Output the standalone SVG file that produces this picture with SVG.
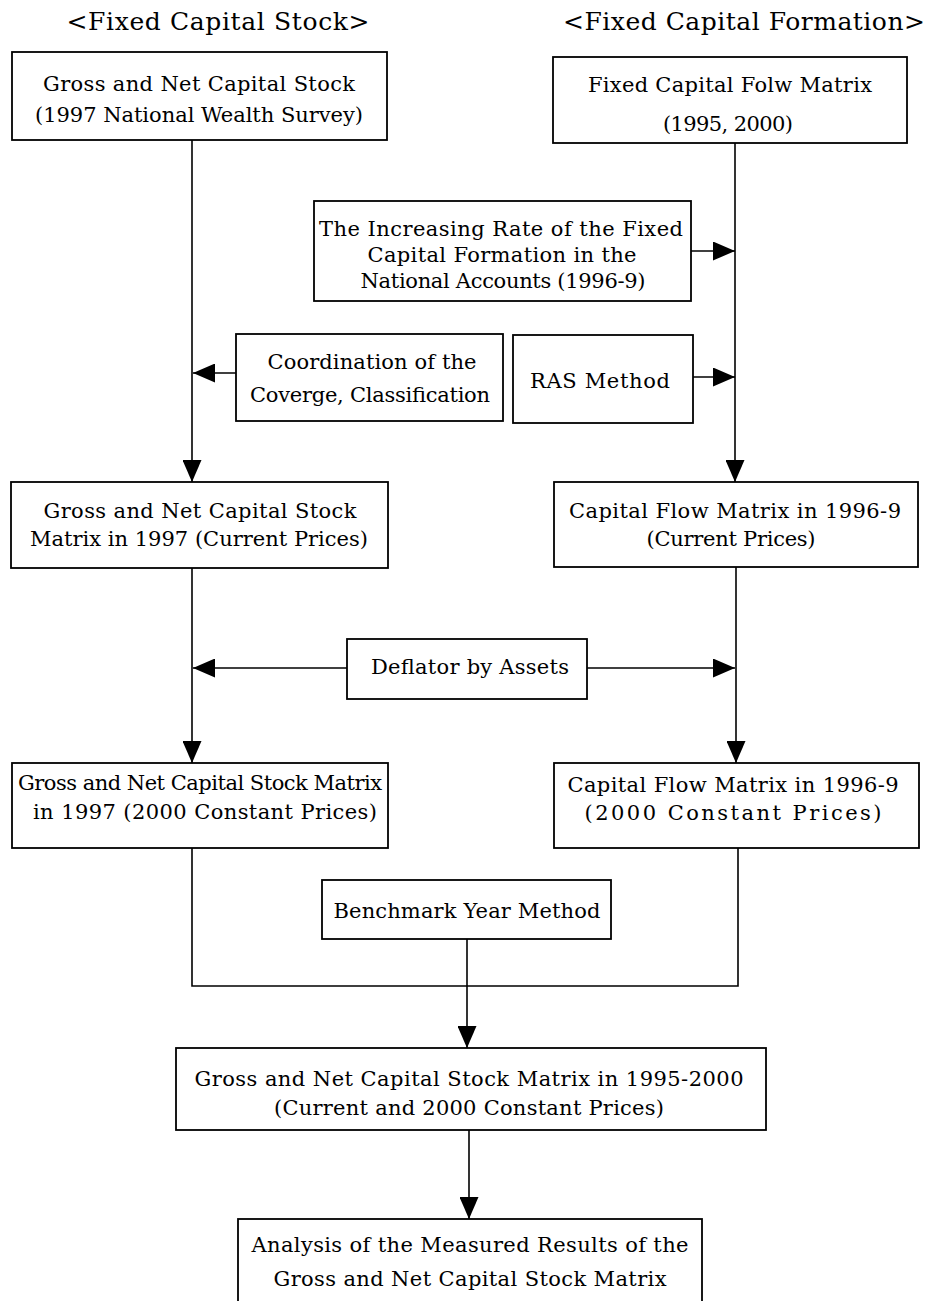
<svg xmlns="http://www.w3.org/2000/svg" width="933" height="1301" viewBox="0 0 933 1301">
<style>
  .box { fill: #ffffff; stroke: #000000; stroke-width: 1.8; }
  .t { font-family: "DejaVu Serif", "Liberation Serif", serif; font-size: 21px; fill: #000000; text-anchor: middle; }
  .title { font-family: "DejaVu Serif", "Liberation Serif", serif; font-size: 25px; fill: #000000; text-anchor: middle; }
  .c { fill: none; stroke: #000000; stroke-width: 1.6; }
</style>
<defs>
  <marker id="ah" markerUnits="userSpaceOnUse" markerWidth="23" markerHeight="19" refX="22" refY="9.5" orient="auto">
    <path d="M0,0 L22,9.5 L0,19 z" fill="#000000"/>
  </marker>
</defs>
<rect width="933" height="1301" fill="#ffffff"/>

<g id="titles">
  <text class="title" x="218" y="30" textLength="303" lengthAdjust="spacing">&lt;Fixed Capital Stock&gt;</text>
  <text class="title" x="744" y="30" textLength="362" lengthAdjust="spacing">&lt;Fixed Capital Formation&gt;</text>
</g>

<g id="connectors">
  <line class="c" x1="192" y1="140" x2="192" y2="482" marker-end="url(#ah)"/>
  <line class="c" x1="236" y1="373" x2="193" y2="373" marker-end="url(#ah)"/>
  <line class="c" x1="735" y1="143" x2="735" y2="482" marker-end="url(#ah)"/>
  <line class="c" x1="691" y1="251" x2="735" y2="251" marker-end="url(#ah)"/>
  <line class="c" x1="693" y1="377" x2="735" y2="377" marker-end="url(#ah)"/>
  <line class="c" x1="192" y1="568" x2="192" y2="763" marker-end="url(#ah)"/>
  <line class="c" x1="736" y1="567" x2="736" y2="763" marker-end="url(#ah)"/>
  <line class="c" x1="347" y1="668" x2="193" y2="668" marker-end="url(#ah)"/>
  <line class="c" x1="587" y1="668" x2="735" y2="668" marker-end="url(#ah)"/>
  <polyline class="c" points="192,848 192,986 738,986 738,848"/>
  <line class="c" x1="467" y1="939" x2="467" y2="1048" marker-end="url(#ah)"/>
  <line class="c" x1="469" y1="1130" x2="469" y2="1219" marker-end="url(#ah)"/>
</g>

<g id="n_stock">
  <rect class="box" x="12" y="52" width="375" height="88"/>
  <text class="t" x="199" y="91" textLength="312" lengthAdjust="spacing">Gross and Net Capital Stock</text>
  <text class="t" x="199" y="122" textLength="328" lengthAdjust="spacing">(1997 National Wealth Survey)</text>
</g>

<g id="n_flow">
  <rect class="box" x="553" y="57" width="354" height="86"/>
  <text class="t" x="730" y="92" textLength="284" lengthAdjust="spacing">Fixed Capital Folw Matrix</text>
  <text class="t" x="728" y="131" textLength="130" lengthAdjust="spacing">(1995, 2000)</text>
</g>

<g id="n_rate">
  <rect class="box" x="314" y="201" width="377" height="100"/>
  <text class="t" x="501" y="236" textLength="364" lengthAdjust="spacing">The Increasing Rate of the Fixed</text>
  <text class="t" x="502" y="262" textLength="269" lengthAdjust="spacing">Capital Formation in the</text>
  <text class="t" x="503" y="288" textLength="285" lengthAdjust="spacing">National Accounts (1996-9)</text>
</g>

<g id="n_coord">
  <rect class="box" x="236" y="334" width="267" height="87"/>
  <text class="t" x="372" y="369" textLength="209" lengthAdjust="spacing">Coordination of the</text>
  <text class="t" x="370" y="402" textLength="240" lengthAdjust="spacing">Coverge, Classification</text>
</g>

<g id="n_ras">
  <rect class="box" x="513" y="335" width="180" height="88"/>
  <text class="t" x="600" y="388" textLength="140" lengthAdjust="spacing">RAS Method</text>
</g>

<g id="n_stock_cur">
  <rect class="box" x="11" y="482" width="377" height="86"/>
  <text class="t" x="200" y="518" textLength="313" lengthAdjust="spacing">Gross and Net Capital Stock</text>
  <text class="t" x="199" y="546" textLength="338" lengthAdjust="spacing">Matrix in 1997 (Current Prices)</text>
</g>

<g id="n_flow_cur">
  <rect class="box" x="554" y="482" width="364" height="85"/>
  <text class="t" x="735" y="518" textLength="332" lengthAdjust="spacing">Capital Flow Matrix in 1996-9</text>
  <text class="t" x="731" y="546" textLength="169" lengthAdjust="spacing">(Current Prices)</text>
</g>

<g id="n_deflator">
  <rect class="box" x="347" y="639" width="240" height="60"/>
  <text class="t" x="470" y="674" textLength="198" lengthAdjust="spacing">Deflator by Assets</text>
</g>

<g id="n_stock_const">
  <rect class="box" x="12" y="763" width="376" height="85"/>
  <text class="t" x="200" y="790" textLength="364" lengthAdjust="spacing">Gross and Net Capital Stock Matrix</text>
  <text class="t" x="205" y="819" textLength="344" lengthAdjust="spacing">in 1997 (2000 Constant Prices)</text>
</g>

<g id="n_flow_const">
  <rect class="box" x="554" y="763" width="365" height="85"/>
  <text class="t" x="733" y="792" textLength="331" lengthAdjust="spacing">Capital Flow Matrix in 1996-9</text>
  <text class="t" x="733" y="820" textLength="297" lengthAdjust="spacing">(2000 Constant Prices)</text>
</g>

<g id="n_benchmark">
  <rect class="box" x="322" y="880" width="289" height="59"/>
  <text class="t" x="467" y="918" textLength="267" lengthAdjust="spacing">Benchmark Year Method</text>
</g>

<g id="n_matrix">
  <rect class="box" x="176" y="1048" width="590" height="82"/>
  <text class="t" x="469" y="1086" textLength="549" lengthAdjust="spacing">Gross and Net Capital Stock Matrix in 1995-2000</text>
  <text class="t" x="469" y="1115" textLength="390" lengthAdjust="spacing">(Current and 2000 Constant Prices)</text>
</g>

<g id="n_analysis">
  <rect class="box" x="238" y="1219" width="464" height="100"/>
  <text class="t" x="470" y="1252" textLength="437" lengthAdjust="spacing">Analysis of the Measured Results of the</text>
  <text class="t" x="470" y="1286" textLength="393" lengthAdjust="spacing">Gross and Net Capital Stock Matrix</text>
</g>
</svg>
